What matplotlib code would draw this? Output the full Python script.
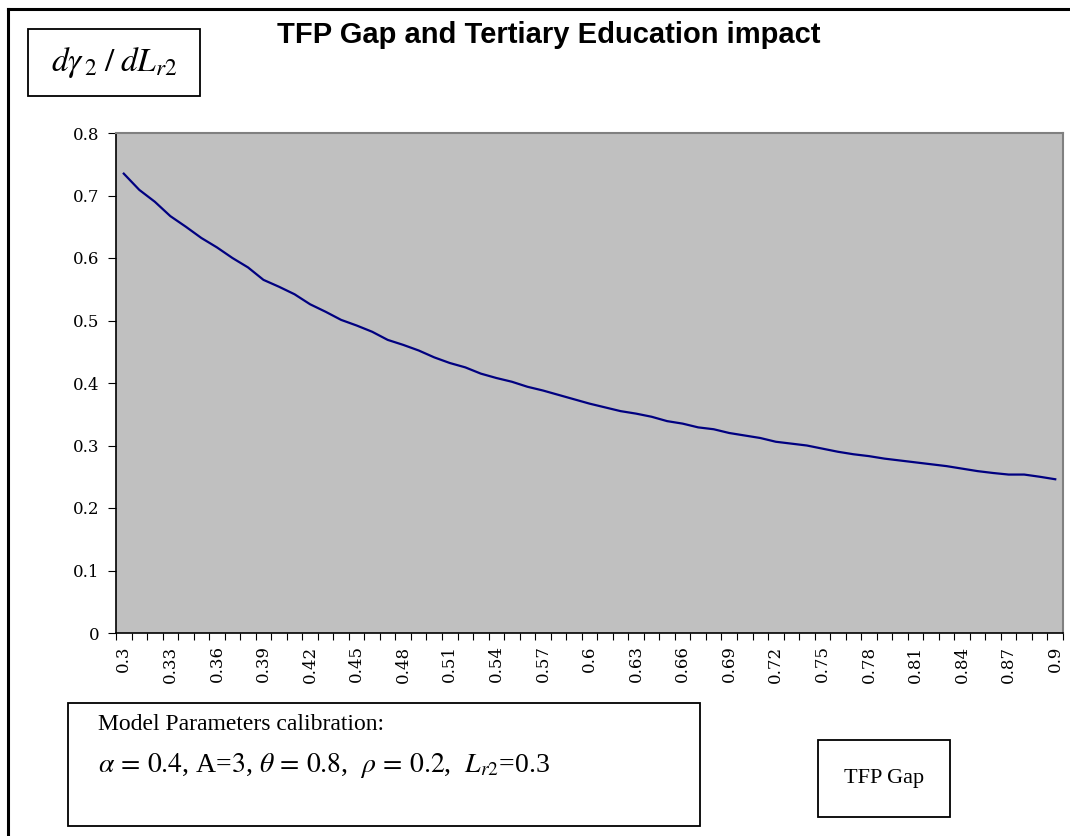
import matplotlib
matplotlib.use("Agg")
import matplotlib.pyplot as plt
from matplotlib.patches import Rectangle
import numpy as np

# TFP gap categories 0.30 .. 0.90 (step 0.01)
gap = [round(0.30 + 0.01 * i, 2) for i in range(61)]
impact = [0.735, 0.709, 0.690, 0.667, 0.650, 0.632, 0.617, 0.600, 0.585, 0.565,
          0.554, 0.542, 0.526, 0.514, 0.501, 0.492, 0.482, 0.469, 0.461, 0.452,
          0.441, 0.432, 0.425, 0.415, 0.408, 0.402, 0.394, 0.388, 0.381, 0.374,
          0.367, 0.361, 0.355, 0.351, 0.346, 0.339, 0.335, 0.329, 0.326, 0.320,
          0.316, 0.312, 0.306, 0.303, 0.300, 0.295, 0.290, 0.286, 0.283, 0.279,
          0.276, 0.273, 0.270, 0.267, 0.263, 0.259, 0.256, 0.2535, 0.2535, 0.250,
          0.246]
tick_labels = [("%.2f" % g).rstrip("0") for g in gap]
yticks = [0, 0.1, 0.2, 0.3, 0.4, 0.5, 0.6, 0.7, 0.8]

plt.rcParams['mathtext.fontset'] = 'stix'
serif = ['Liberation Serif', 'DejaVu Serif']
tickfont = ['DejaVu Serif']

W, H = 1070, 836
fig = plt.figure(figsize=(W / 100, H / 100), dpi=100)
fig.patch.set_facecolor('white')

def px(x0, y0, x1, y1):
    return (x0 / W, 1 - y1 / H, (x1 - x0) / W, (y1 - y0) / H)

l, b, w, h = px(116, 133, 1063, 633)
ax = fig.add_axes([l, b, w, h])
ax.set_facecolor('#C0C0C0')
x = np.arange(len(gap))
ax.plot(x, impact, color='#000080', lw=1.6)

ax.set_xlim(-0.5, len(gap) - 0.5)
ax.set_ylim(0, 0.8)
ax.set_yticks(yticks)
ax.set_yticklabels([("%g" % v) for v in yticks], family=tickfont, fontsize=12)

# ticks on category boundaries, labels at category centres
ax.set_xticks(np.arange(-0.5, len(gap), 1.0))
ax.set_xticklabels([])
ax.set_xticks(x[::3], minor=True)
ax.set_xticklabels(tick_labels[::3], minor=True, rotation=90, family=tickfont, fontsize=12)
ax.tick_params(axis='x', which='major', direction='out', length=5, color='black')
ax.tick_params(axis='x', which='minor', length=0, pad=9)
ax.tick_params(axis='y', direction='out', length=6, color='black', pad=6)

for s in ['top', 'right']:
    ax.spines[s].set_color('#808080')
    ax.spines[s].set_linewidth(1.5)
for s in ['left', 'bottom']:
    ax.spines[s].set_color('black')
    ax.spines[s].set_linewidth(1.2)

# outer frame (left + top)
fig.add_artist(plt.Line2D([8 / W, 8 / W], [0, 1 - 9 / H], transform=fig.transFigure, color='black', lw=2.2))
fig.add_artist(plt.Line2D([8 / W, 1], [1 - 9 / H, 1 - 9 / H], transform=fig.transFigure, color='black', lw=2.2))

fig.text(549 / W, 1 - 35 / H, 'TFP Gap and Tertiary Education impact', ha='center', va='center',
         family=['Liberation Sans', 'DejaVu Sans'], fontweight='bold', fontsize=21)

# y label box
r = px(28, 29, 200, 96)
fig.add_artist(Rectangle(r[:2], r[2], r[3], transform=fig.transFigure, fill=False, ec='black', lw=1.3))
fig.text(114 / W, 1 - 63 / H, r'$d\gamma_{\,2}\;/\;dL_{r2}$', ha='center', va='center', fontsize=24)

# parameter box
r = px(68, 703, 700, 826)
fig.add_artist(Rectangle(r[:2], r[2], r[3], transform=fig.transFigure, fill=False, ec='black', lw=1.3))
fig.text(98 / W, 1 - 724 / H, 'Model Parameters calibration:', ha='left', va='center',
         family=serif, fontsize=17)
fig.text(98 / W, 1 - 766 / H,
         r'$\alpha\,=\,0.4$, A=$\mathit{3}$, $\theta\,=\,0.8$,  $\rho\,=\,0.2$,  $L_{r2}$=0.3',
         ha='left', va='center', family=serif, fontsize=20)

# x label box
r = px(818, 740, 950, 817)
fig.add_artist(Rectangle(r[:2], r[2], r[3], transform=fig.transFigure, fill=False, ec='black', lw=1.3))
fig.text(884 / W, 1 - 779 / H, 'TFP Gap', ha='center', va='center', family=serif, fontsize=16)

fig.savefig('out.png', dpi=100)
